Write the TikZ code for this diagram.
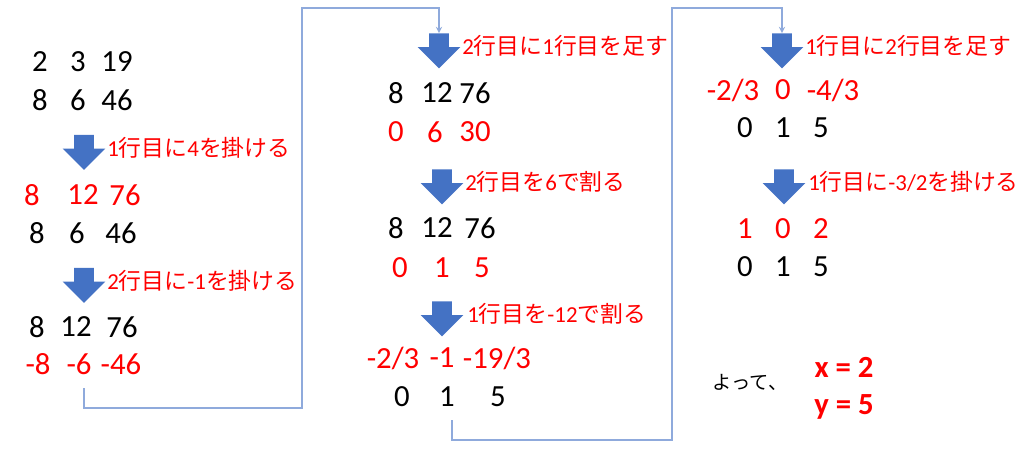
\documentclass[tikz,border=0pt]{standalone}
\usepackage{fontspec}
\setmainfont{Carlito}
\newfontfamily\jp{Noto Sans CJK JP}
\usetikzlibrary{shapes.arrows, arrows, positioning}
\definecolor{arrowblue}{RGB}{68,114,196}
\definecolor{lineblue}{RGB}{143,170,220}
\tikzstyle{entry} = [inner sep=0pt, text depth=0pt, font=\fontsize{17.5}{20}\selectfont]
\tikzstyle{stepdown} = [single arrow, shape border rotate=270, fill=arrowblue, draw=none, inner sep=0.19cm, minimum height=0.7cm, single arrow head extend=0.23cm]
\tikzstyle{steplabel} = [inner sep=0pt, text=red, font=\fontsize{13}{15}\selectfont]
\tikzstyle{flowline} = [draw=lineblue, line width=0.6pt]
\tikzstyle{arrow} = [->,>=stealth]

\begin{document}
\begin{tikzpicture}[x=0.02cm, y=-0.02cm]
    \useasboundingbox (0,0) rectangle (1024,453);

    % first column
    \foreach \x/\t [count=\i] in {40/2, 78/3, 117/19} \node[entry] (a1c\i) at (\x,62) {\t};
    \foreach \x/\t [count=\i] in {40/8, 78/6, 117/46} \node[entry] (a2c\i) at (\x,100) {\t};
    \node (ar1) [stepdown] at (84,147.5) {};
    \node (lab1) [steplabel, right=0.46cm of ar1.center] {1{\jp 行目に}4{\jp を掛ける}};
    \foreach \x/\t [count=\i] in {32/8, 83/12, 125/76} \node[entry, red] (a3c\i) at (\x,195) {\t};
    \foreach \x/\t [count=\i] in {37/8, 77/6, 121/46} \node[entry] (a4c\i) at (\x,233) {\t};
    \node (ar2) [stepdown] at (84,280.5) {};
    \node (lab2) [steplabel, right=0.46cm of ar2.center] {2{\jp 行目に}-1{\jp を掛ける}};
    \foreach \x/\t [count=\i] in {37/8, 76/12, 122/76} \node[entry] (a5c\i) at (\x,327) {\t};
    \foreach \x/\t [count=\i] in {38/-8, 79/-6, 121/-46} \node[entry, red] (a6c\i) at (\x,364) {\t};

    % second column
    \node (ar3) [stepdown] at (439,46) {};
    \node (lab3) [steplabel, right=0.46cm of ar3.center] {2{\jp 行目に}1{\jp 行目を足す}};
    \foreach \x/\t [count=\i] in {396/8, 437/12, 475/76} \node[entry] (b1c\i) at (\x,93) {\t};
    \foreach \x/\t [count=\i] in {396/0, 435/6, 475/30} \node[entry, red] (b2c\i) at (\x,132) {\t};
    \node (ar4) [stepdown] at (442,182) {};
    \node (lab4) [steplabel, right=0.46cm of ar4.center] {2{\jp 行目を}6{\jp で割る}};
    \foreach \x/\t [count=\i] in {396/8, 437/12, 480/76} \node[entry] (b3c\i) at (\x,228) {\t};
    \foreach \x/\t [count=\i] in {400/0, 442/1, 482/5} \node[entry, red] (b4c\i) at (\x,268) {\t};
    \node (ar5) [stepdown] at (442,314) {};
    \node (lab5) [steplabel, right=0.5cm of ar5.center] {1{\jp 行目を}-12{\jp で割る}};
    \foreach \x/\t [count=\i] in {393/{-2/3}, 442/-1, 497/{-19/3}} \node[entry, red] (b5c\i) at (\x,358) {\t};
    \foreach \x/\t [count=\i] in {402/0, 447/1, 498/5} \node[entry] (b6c\i) at (\x,397) {\t};

    % third column
    \node (ar6) [stepdown] at (782,46) {};
    \node (lab6) [steplabel, right=0.46cm of ar6.center] {1{\jp 行目に}2{\jp 行目を足す}};
    \foreach \x/\t [count=\i] in {733/{-2/3}, 783/0, 833/{-4/3}} \node[entry, red] (c1c\i) at (\x,90) {\t};
    \foreach \x/\t [count=\i] in {745/0, 783/1, 821/5} \node[entry] (c2c\i) at (\x,128) {\t};
    \node (ar7) [stepdown] at (784,182) {};
    \node (lab7) [steplabel, right=0.48cm of ar7.center] {1{\jp 行目に}-3/2{\jp を掛ける}};
    \foreach \x/\t [count=\i] in {745/1, 783/0, 821/2} \node[entry, red] (c3c\i) at (\x,229) {\t};
    \foreach \x/\t [count=\i] in {745/0, 783/1, 821/5} \node[entry] (c4c\i) at (\x,267) {\t};
    \node (yotte) [inner sep=0pt, font=\fontsize{11}{13}\selectfont\jp] at (750,382) {よって、};
    \node (solx) [entry, red, font=\fontsize{17.5}{20}\selectfont\bfseries] at (844,367) {x = 2};
    \node (soly) [entry, red, font=\fontsize{17.5}{20}\selectfont\bfseries] at (844,405) {y = 5};

    % jumps to the next column
    \coordinate (jump1) at (84,388);
    \coordinate (jump2) at (452,420);
    \draw[flowline, arrow] (jump1) -- (84,408) -- (302,408) -- (302,8) -| (ar3.tail);
    \draw[flowline, arrow] (jump2) -- (452,440) -- (672,440) -- (672,8) -| (ar6.tail);

\end{tikzpicture}
\end{document}
